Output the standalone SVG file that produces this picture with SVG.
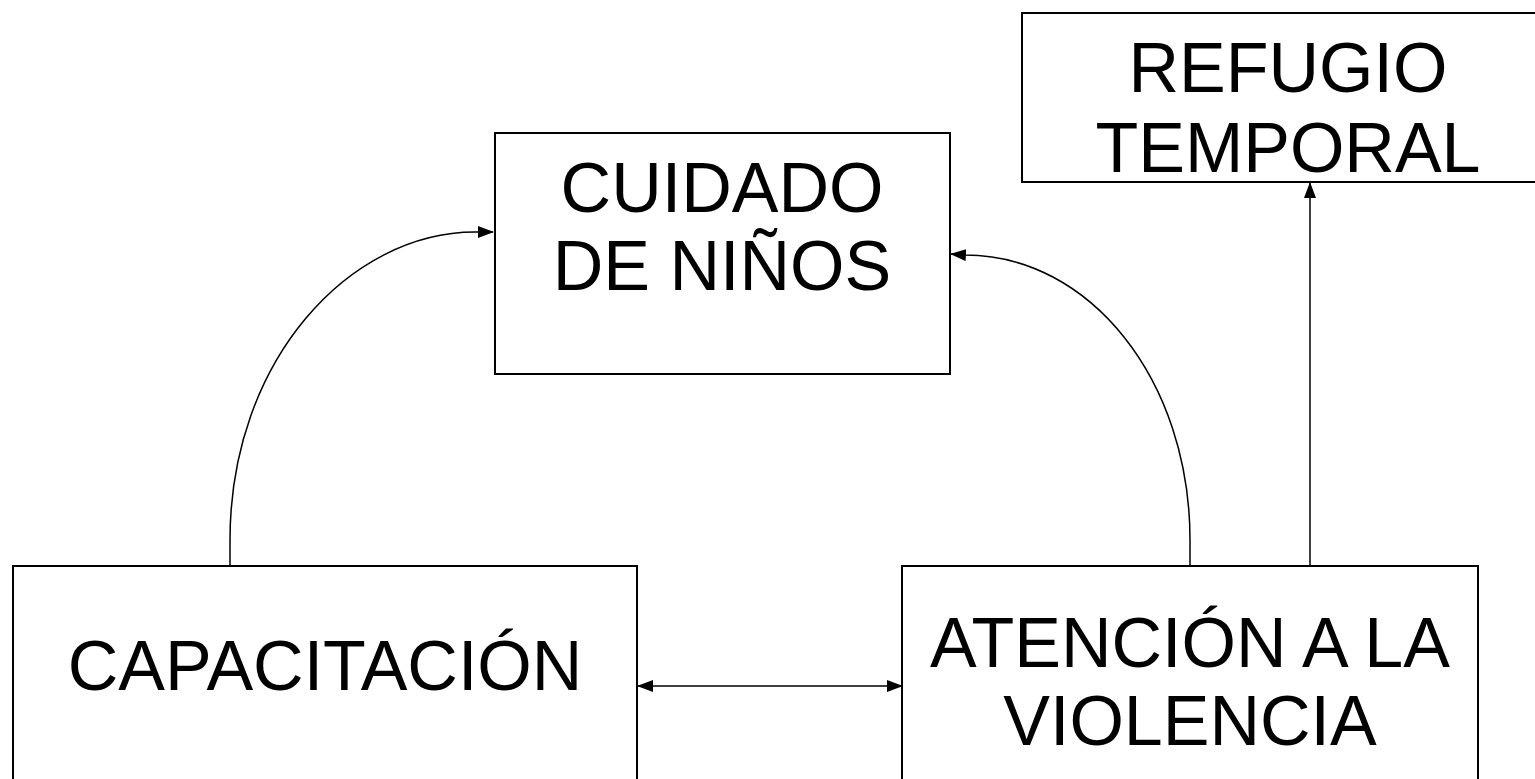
<svg xmlns="http://www.w3.org/2000/svg" width="1535" height="779" viewBox="0 0 1535 779">
<style>
.box{fill:#fff;stroke:#000;stroke-width:2}
.lbl{font-family:"Liberation Sans",Arial,sans-serif;font-size:70px;fill:#000;text-anchor:middle}
.con{fill:none;stroke:#000;stroke-width:1.5}
</style>
<defs>
<marker id="ah" markerWidth="16" markerHeight="12" refX="15" refY="6" orient="auto-start-reverse" markerUnits="userSpaceOnUse">
<path d="M0,0 L16,6 L0,12 Z" fill="#000"/>
</marker>
</defs>
<rect width="1535" height="779" fill="#fff"/>
<g id="connectors">
<path class="con" d="M230,566 L230,540 C230,360 350,232 475,232 L493,232" marker-end="url(#ah)"/>
<path class="con" d="M1190,566 L1190,540 C1190,380 1090,255 965,255 L951,254" marker-end="url(#ah)"/>
<path class="con" d="M1310,566 L1310,183" marker-end="url(#ah)"/>
<path class="con" d="M638,686 L902,686" marker-start="url(#ah)" marker-end="url(#ah)"/>
</g>
<g id="refugio">
<rect class="box" x="1022" y="13" width="540" height="169"/>
<text class="lbl" x="1288" y="92">REFUGIO</text>
<text class="lbl" x="1288" y="172">TEMPORAL</text>
</g>
<g id="cuidado">
<rect class="box" x="495" y="133" width="455" height="241"/>
<text class="lbl" x="722" y="212">CUIDADO</text>
<text class="lbl" x="722" y="290">DE NIÑOS</text>
</g>
<g id="capacitacion">
<rect class="box" x="13" y="566" width="624" height="240"/>
<text class="lbl" x="325" y="690">CAPACITACIÓN</text>
</g>
<g id="atencion">
<rect class="box" x="902" y="566" width="576" height="240"/>
<text class="lbl" x="1190" y="667">ATENCIÓN A LA</text>
<text class="lbl" x="1190" y="745">VIOLENCIA</text>
</g>
</svg>
